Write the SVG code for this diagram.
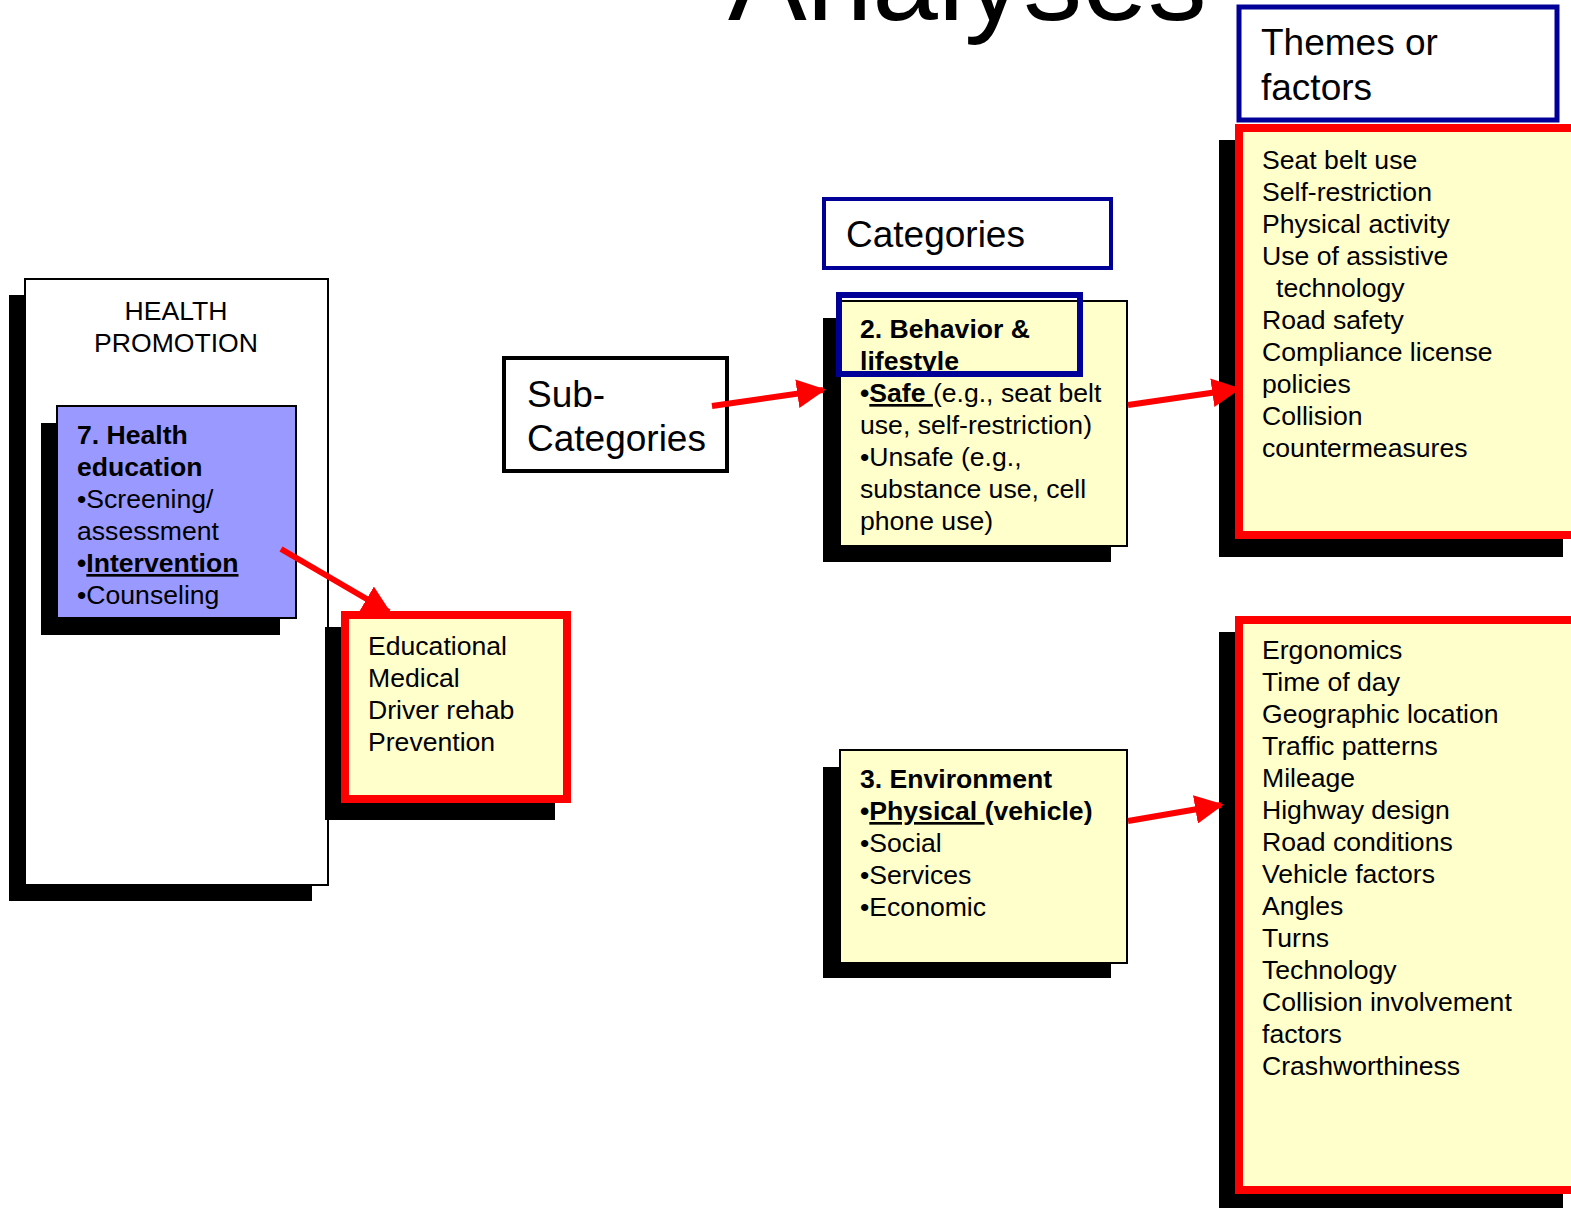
<svg xmlns="http://www.w3.org/2000/svg" width="1571" height="1208" viewBox="0 0 1571 1208">
  <style>
    text { font-family: "Liberation Sans", Arial, sans-serif; fill: #000; }
    .t26 { font-size: 26.6px; }
    .t36 { font-size: 37px; }
    .b { font-weight: bold; }
    .u { text-decoration: underline; }
    .shadow { fill: #000; }
    .note { fill: #FFFFCC; stroke: #000; stroke-width: 2; }
    .hot { fill: #FFFFCC; stroke: #FF0000; stroke-width: 8; }
    .label { fill: #FFFFFF; stroke: #000099; stroke-width: 5; }
    .conn { stroke: #FF0000; stroke-width: 6; fill: none; }
  </style>
  <defs>
    <marker id="arrow" viewBox="0 0 10 10" refX="9" refY="5" markerWidth="4.8" markerHeight="4.8" markerUnits="strokeWidth" orient="auto">
      <path d="M0,0 L10,5 L0,10 z" fill="#FF0000"/>
    </marker>
  </defs>

  <rect width="1571" height="1208" fill="#FFFFFF"/>

  <!-- page title, partly above the top edge -->
  <text id="title" x="728" y="20" style="font-size:118px">Analyses</text>

  <!-- legend labels -->
  <g id="themes-label">
    <rect class="label" x="1239" y="7" width="318" height="113"/>
    <text class="t36" x="1261" y="55">Themes or</text>
    <text class="t36" x="1261" y="100">factors</text>
  </g>
  <g id="categories-label">
    <rect class="label" x="824" y="199" width="287" height="69" style="stroke-width:4"/>
    <text class="t36" x="846" y="247">Categories</text>
  </g>
  <g id="subcategories-label">
    <rect x="504" y="358" width="223" height="113" fill="#FFFFFF" stroke="#000" stroke-width="4"/>
    <text class="t36" x="527" y="407">Sub-</text>
    <text class="t36" x="527" y="451">Categories</text>
  </g>

  <!-- health promotion column -->
  <g id="health-promotion">
    <rect class="shadow" x="9" y="295" width="303" height="606"/>
    <rect x="25" y="279" width="303" height="606" fill="#FFFFFF" stroke="#000" stroke-width="2"/>
    <text class="t26" x="176" y="320" text-anchor="middle">HEALTH</text>
    <text class="t26" x="176" y="352" text-anchor="middle">PROMOTION</text>
  </g>
  <g id="health-education">
    <rect class="shadow" x="41" y="423" width="239" height="212"/>
    <rect x="57" y="406" width="239" height="212" fill="#9999FF" stroke="#000" stroke-width="2"/>
    <text class="t26 b" x="77" y="444">7. Health</text>
    <text class="t26 b" x="77" y="476">education</text>
    <text class="t26" x="77" y="508">•Screening/</text>
    <text class="t26" x="77" y="540">assessment</text>
    <text class="t26 b" x="77" y="572">•<tspan class="u">Intervention</tspan></text>
    <text class="t26" x="77" y="604">•Counseling</text>
  </g>
  <g id="intervention-types">
    <rect class="shadow" x="325" y="627" width="230" height="193"/>
    <rect class="hot" x="345" y="615" width="222" height="184"/>
    <text class="t26" x="368" y="655">Educational</text>
    <text class="t26" x="368" y="687">Medical</text>
    <text class="t26" x="368" y="719">Driver rehab</text>
    <text class="t26" x="368" y="751">Prevention</text>
  </g>

  <!-- category 2 -->
  <g id="behavior">
    <rect class="shadow" x="823" y="318" width="288" height="244"/>
    <rect class="note" x="840" y="301" width="287" height="245"/>
    <text class="t26 b" x="860" y="338">2. Behavior &amp;</text>
    <text class="t26 b" x="860" y="370">lifestyle</text>
    <text class="t26" x="860" y="402"><tspan class="b">•</tspan><tspan class="b u">Safe </tspan>(e.g., seat belt</text>
    <text class="t26" x="860" y="434">use, self-restriction)</text>
    <text class="t26" x="860" y="466">•Unsafe (e.g.,</text>
    <text class="t26" x="860" y="498">substance use, cell</text>
    <text class="t26" x="860" y="530">phone use)</text>
    <rect x="839" y="295" width="241" height="79" fill="none" stroke="#000099" stroke-width="6"/>
  </g>

  <!-- category 3 -->
  <g id="environment">
    <rect class="shadow" x="823" y="767" width="288" height="211"/>
    <rect class="note" x="840" y="750" width="287" height="213"/>
    <text class="t26 b" x="860" y="788">3. Environment</text>
    <text class="t26 b" x="860" y="820">•<tspan class="u">Physical </tspan>(vehicle)</text>
    <text class="t26" x="860" y="852">•Social</text>
    <text class="t26" x="860" y="884">•Services</text>
    <text class="t26" x="860" y="916">•Economic</text>
  </g>

  <!-- themes for category 2 -->
  <g id="behavior-themes">
    <rect class="shadow" x="1219" y="140" width="344" height="417"/>
    <rect class="hot" x="1239" y="128" width="345" height="407"/>
    <text class="t26" x="1262" y="169">Seat belt use</text>
    <text class="t26" x="1262" y="201">Self-restriction</text>
    <text class="t26" x="1262" y="233">Physical activity</text>
    <text class="t26" x="1262" y="265">Use of assistive</text>
    <text class="t26" x="1276" y="297">technology</text>
    <text class="t26" x="1262" y="329">Road safety</text>
    <text class="t26" x="1262" y="361">Compliance license</text>
    <text class="t26" x="1262" y="393">policies</text>
    <text class="t26" x="1262" y="425">Collision</text>
    <text class="t26" x="1262" y="457">countermeasures</text>
  </g>

  <!-- themes for category 3 -->
  <g id="environment-themes">
    <rect class="shadow" x="1219" y="632" width="344" height="590"/>
    <rect class="hot" x="1239" y="620" width="345" height="570"/>
    <text class="t26" x="1262" y="659">Ergonomics</text>
    <text class="t26" x="1262" y="691">Time of day</text>
    <text class="t26" x="1262" y="723">Geographic location</text>
    <text class="t26" x="1262" y="755">Traffic patterns</text>
    <text class="t26" x="1262" y="787">Mileage</text>
    <text class="t26" x="1262" y="819">Highway design</text>
    <text class="t26" x="1262" y="851">Road conditions</text>
    <text class="t26" x="1262" y="883">Vehicle factors</text>
    <text class="t26" x="1262" y="915">Angles</text>
    <text class="t26" x="1262" y="947">Turns</text>
    <text class="t26" x="1262" y="979">Technology</text>
    <text class="t26" x="1262" y="1011">Collision involvement</text>
    <text class="t26" x="1262" y="1043">factors</text>
    <text class="t26" x="1262" y="1075">Crashworthiness</text>
  </g>

  <!-- connectors -->
  <g id="connectors">
    <line class="conn" x1="281" y1="549" x2="389" y2="612" marker-end="url(#arrow)"/>
    <line class="conn" x1="712" y1="406" x2="823" y2="390" marker-end="url(#arrow)"/>
    <line class="conn" x1="1128" y1="405" x2="1238" y2="389" marker-end="url(#arrow)"/>
    <line class="conn" x1="1128" y1="821" x2="1221" y2="805" marker-end="url(#arrow)"/>
  </g>
</svg>
